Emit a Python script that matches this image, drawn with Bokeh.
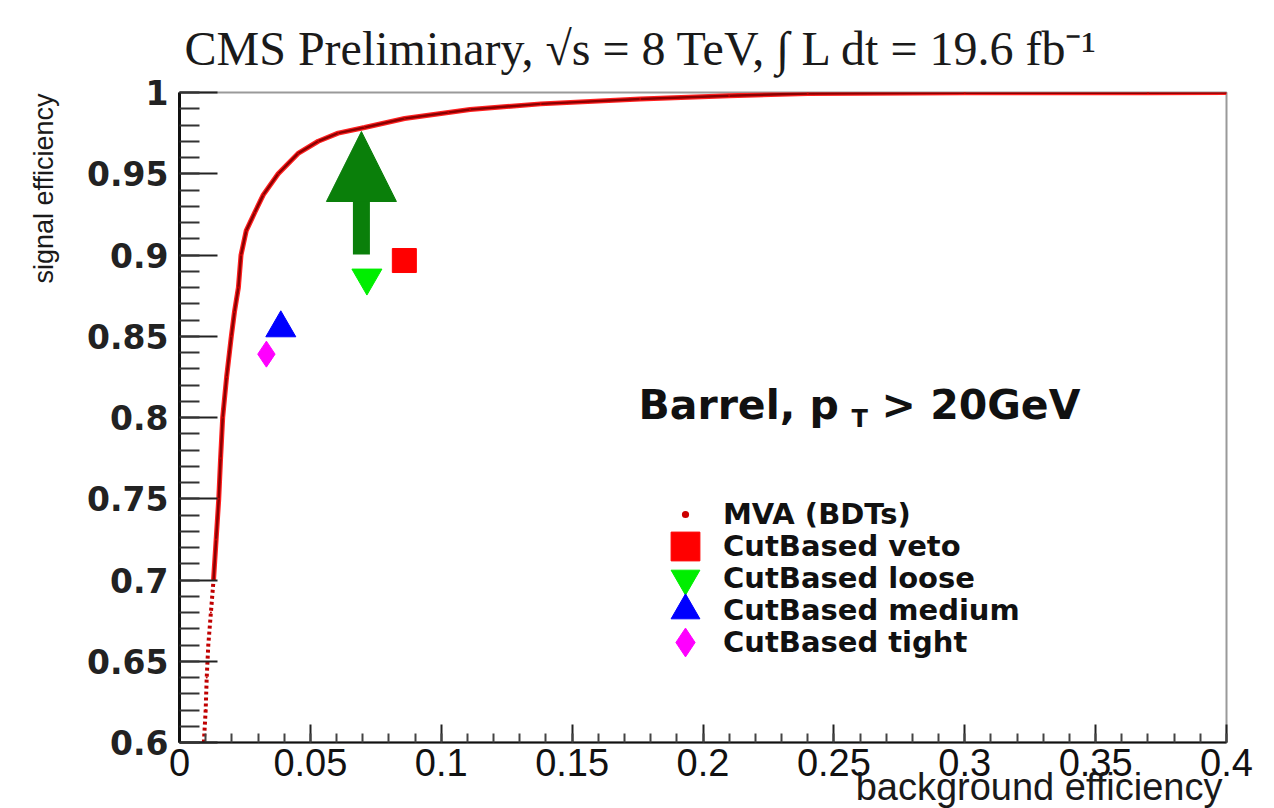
import numpy as np
from bokeh.plotting import figure
from bokeh.models import (FixedTicker, Label, Legend, LegendItem, Arrow, NormalHead, Range1d, Title)
from bokeh.embed import file_html
from bokeh.resources import INLINE

# ---------------- data ----------------
mva_bkg = [0.0093, 0.0100, 0.0104, 0.0110, 0.0120, 0.0130, 0.0140, 0.0150, 0.0157,
           0.0165, 0.0180, 0.0198, 0.0210, 0.0225, 0.0235, 0.0255, 0.0287, 0.0320,
           0.0377, 0.0453, 0.0530, 0.0606, 0.0707, 0.0860, 0.1027, 0.1110, 0.1380,
           0.1760, 0.2100, 0.2400, 0.3000, 0.3700, 0.4000]
mva_sig = [0.600, 0.620, 0.640, 0.660, 0.680, 0.700, 0.725, 0.750, 0.775,
           0.800, 0.825, 0.850, 0.865, 0.880, 0.900, 0.915, 0.926, 0.937,
           0.950, 0.9625, 0.970, 0.975, 0.9785, 0.984, 0.9877, 0.9895, 0.993,
           0.996, 0.998, 0.9994, 0.9998, 0.9999, 1.000]
mva_dotted_below = 0.70   # the low part of the ROC curve is drawn as sparse dots

veto_bkg, veto_sig = [0.0859], [0.8966]
loose_bkg, loose_sig = [0.0716], [0.8860]
medium_bkg, medium_sig = [0.0387], [0.8550]
tight_bkg, tight_sig = [0.0332], [0.8390]

arrow_bkg = 0.0695
arrow_sig_start = 0.9003
arrow_sig_end = 0.9760

x_ticks = [0.0, 0.05, 0.1, 0.15, 0.2, 0.25, 0.3, 0.35, 0.4]
x_tick_labels = ["0", "0.05", "0.1", "0.15", "0.2", "0.25", "0.3", "0.35", "0.4"]
y_ticks = [0.6, 0.65, 0.7, 0.75, 0.8, 0.85, 0.9, 0.95, 1.0]
y_tick_labels = ["0.6", "0.65", "0.7", "0.75", "0.8", "0.85", "0.9", "0.95", "1"]
x_minor = [round(v, 2) for v in np.arange(0.0, 0.4001, 0.01)]
y_minor = [round(v, 2) for v in np.arange(0.6, 1.0001, 0.01)]

title_text = "CMS Preliminary, √s = 8 TeV, ∫ L dt = 19.6 fb⁻¹"
x_title = "background efficiency"
y_title = "signal efficiency"
legend_labels = ["MVA (BDTs)", "CutBased veto", "CutBased loose", "CutBased medium", "CutBased tight"]

# ---------------- figure ----------------
p = figure(width=1274, height=808, x_range=Range1d(0, 0.4), y_range=Range1d(0.6, 1.0),
           output_backend="svg", toolbar_location=None, title=None,
           min_border_left=178, min_border_right=48, min_border_top=92, min_border_bottom=66)
p.xgrid.visible = False
p.ygrid.visible = False
p.background_fill_color = "white"
p.border_fill_color = "white"
p.outline_line_color = "#9a9a9a"
p.outline_line_width = 2

# axes
p.xaxis.ticker = FixedTicker(ticks=x_ticks, minor_ticks=x_minor)
p.yaxis.ticker = FixedTicker(ticks=y_ticks, minor_ticks=y_minor)
p.xaxis.major_label_overrides = dict(zip(x_ticks, x_tick_labels))
p.yaxis.major_label_overrides = dict(zip(y_ticks, y_tick_labels))

p.xaxis.axis_line_width = 2
p.xaxis.axis_line_color = "#111111"
p.xaxis.major_tick_in = 18
p.xaxis.major_tick_out = 0
p.xaxis.minor_tick_in = 9
p.xaxis.minor_tick_out = 0
p.xaxis.major_tick_line_width = 2
p.xaxis.minor_tick_line_width = 2
p.xaxis.major_tick_line_color = "#222222"
p.xaxis.minor_tick_line_color = "#444444"
p.xaxis.major_label_text_font = "Liberation Sans"
p.xaxis.major_label_text_font_size = "38px"
p.xaxis.major_label_text_color = "#111111"
p.xaxis.major_label_standoff = 6

p.yaxis.axis_line_width = 3
p.yaxis.axis_line_color = "#111111"
p.yaxis.major_tick_in = 38
p.yaxis.major_tick_out = 0
p.yaxis.minor_tick_in = 20
p.yaxis.minor_tick_out = 0
p.yaxis.major_tick_line_width = 2
p.yaxis.minor_tick_line_width = 2
p.yaxis.major_tick_line_color = "#222222"
p.yaxis.minor_tick_line_color = "#333333"
p.yaxis.major_label_text_font = "DejaVu Sans"
p.yaxis.major_label_text_font_style = "bold"
p.yaxis.major_label_text_font_size = "33px"
p.yaxis.major_label_text_color = "#222222"
p.yaxis.major_label_standoff = 11

# titles (placed in the side panels so that they are not clipped)
p.add_layout(Title(text=title_text, align="left", offset=5, standoff=36, vertical_align="bottom",
                   text_font="Liberation Serif", text_font_size="48px", text_font_style="normal",
                   text_color="#1a1a1a"), "above")
p.add_layout(Title(text=x_title, align="right", offset=4, standoff=-26, vertical_align="top",
                   text_font="Liberation Sans", text_font_size="38px", text_font_style="normal",
                   text_color="#1a1a1a"), "below")
p.add_layout(Title(text=y_title, align="right", offset=1, standoff=52, vertical_align="bottom",
                   text_font="Liberation Sans", text_font_size="27px", text_font_style="normal",
                   text_color="#1a1a1a"), "left")

# ---------------- ROC curve ----------------
split = next(i for i, v in enumerate(mva_sig) if v >= mva_dotted_below)
p.line(mva_bkg[:split + 1], mva_sig[:split + 1], line_color="#c00000", line_width=4, line_dash="3 3")
p.line(mva_bkg[split:], mva_sig[split:], line_color="#ff2020", line_width=5)
p.line(mva_bkg[split:], mva_sig[split:], line_color="#8b0000", line_width=2.5)
r_mva = p.scatter(mva_bkg, mva_sig, marker="dot", size=8, line_color="#cc0000", fill_color="#cc0000")

# ---------------- working points ----------------
r_veto = p.scatter(veto_bkg, veto_sig, marker="square", size=24, fill_color="#ff0000", line_color="#ff0000")
r_loose = p.scatter(loose_bkg, loose_sig, marker="inverted_triangle", size=30, fill_color="#00ee00", line_color="#00ee00")
r_medium = p.scatter(medium_bkg, medium_sig, marker="triangle", size=30, fill_color="#0000ff", line_color="#0000ff")
r_tight = p.scatter(tight_bkg, tight_sig, marker="diamond", size=26, fill_color="#ff00ff", line_color="#ff00ff")

# ---------------- arrow ----------------
green = "#0a7f0a"
p.add_layout(Arrow(end=NormalHead(size=70, fill_color=green, line_color=green, line_width=1),
                   x_start=arrow_bkg, y_start=arrow_sig_start, x_end=arrow_bkg, y_end=arrow_sig_end,
                   line_color=green, line_width=17))

# ---------------- legend (one entry per Legend box, stacked 32 px apart) ----------------
row_step = 32
glyph_box = 72
legend_left = 470
legend_bottom = 64
renderers = [r_mva, r_veto, r_loose, r_medium, r_tight]
n = len(renderers)
for k, (lab_txt, r) in enumerate(zip(legend_labels, renderers)):
    lg = Legend(items=[LegendItem(label=lab_txt, renderers=[r])],
                location=(legend_left, legend_bottom + (n - 1 - k) * row_step),
                glyph_width=glyph_box, glyph_height=glyph_box, padding=0, margin=0,
                label_standoff=2, label_text_font="DejaVu Sans", label_text_font_style="bold",
                label_text_font_size="29px", label_text_color="#111111",
                label_text_baseline="middle",
                background_fill_alpha=0, border_line_alpha=0)
    p.add_layout(lg)

# ---------------- region label inside the frame ----------------
def lab(text, x, y, size, style="bold"):
    p.add_layout(Label(x=x, y=y, x_units="screen", y_units="screen", text=text,
                       text_font="DejaVu Sans", text_font_size=size, text_font_style=style,
                       text_align="left", text_baseline="alphabetic", text_color="#111111"))

lab("Barrel, p", 459, 338, "41px")
lab("T", 672, 324, "24px")
lab("> 20GeV", 702, 338, "41px")

open("out.html", "w").write(file_html(p, INLINE))
